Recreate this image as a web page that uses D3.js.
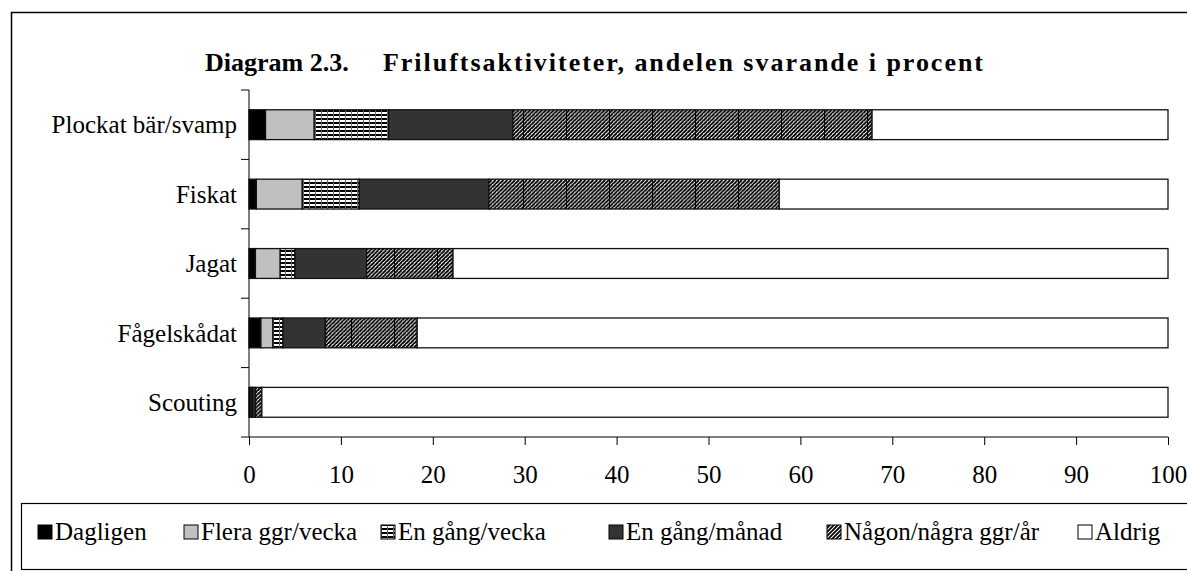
<!DOCTYPE html>
<html>
<head>
<meta charset="utf-8">
<script src="https://cdn.jsdelivr.net/npm/d3@7"></script>
<style>
  body { margin: 0; background: #fff; }
  text { font-family: "Liberation Serif", "Times New Roman", serif; fill: #000; }
</style>
</head>
<body>
<div id="chart"></div>
<script>
/* ---------------- data ---------------- */
const categories = ["Plockat bär/svamp", "Fiskat", "Jagat", "Fågelskådat", "Scouting"];
const seriesNames = ["Dagligen", "Flera ggr/vecka", "En gång/vecka", "En gång/månad", "Någon/några ggr/år", "Aldrig"];

// percent per category, same order as categories
const dagligen   = [1.8, 0.8, 0.7, 1.3, 0.2];
const fleraVecka = [5.3, 5.0, 2.7, 1.3, 0.1];
const enVecka    = [8.1, 6.2, 1.6, 1.1, 0.1];
const enManad    = [13.5, 14.1, 7.8, 4.6, 0.3];
const nagonAr    = [39.1, 31.6, 9.4, 10.0, 0.7];
const aldrig     = [32.2, 42.3, 77.8, 81.7, 98.6];

const xTicks = [0, 10, 20, 30, 40, 50, 60, 70, 80, 90, 100];

const titleLeft = "Diagram 2.3.";
const titleRight = "Friluftsaktiviteter, andelen svarande i procent";

/* ---------------- sizes ---------------- */
let width = 1187, height = 571;
let margin = { top: 90, right: 19, bottom: 134, left: 249 };
let chartWidth = width - margin.left - margin.right;
let chartHeight = height - margin.top - margin.bottom;

let svg = d3.select("#chart").append("svg")
    .attr("width", width).attr("height", height);

// table for the stack
let allSeries = [dagligen, fleraVecka, enVecka, enManad, nagonAr, aldrig];
let table = categories.map((c, i) => {
    let row = { cat: c };
    seriesNames.forEach((s, j) => { row[s] = allSeries[j][i]; });
    return row;
});
let stacked = d3.stack().keys(seriesNames)(table);

/* ---------------- patterns ---------------- */
let defs = svg.append("defs");

// diagonal hatch, with the faint vertical seams every 43px seen in the picture
let seam = 43, per = seam / 11;
let hatch = defs.append("pattern")
    .attr("id", "hatch").attr("patternUnits", "userSpaceOnUse")
    .attr("x", (523 - margin.left) % seam).attr("y", 0)
    .attr("width", seam).attr("height", per);
hatch.append("rect").attr("width", seam).attr("height", per).attr("fill", "#fff");
let hp = "";
for (let k = -1; k <= 12; k++) {
    let x0 = k * per;
    hp += `M${x0 - per},${per * 2} L${x0 + per},0 `;
}
hatch.append("path").attr("d", hp).attr("stroke", "#000").attr("stroke-width", 1.9);
hatch.append("line").attr("x1", 0.5).attr("x2", 0.5).attr("y1", 0).attr("y2", per)
    .attr("stroke", "#000").attr("stroke-width", 1);

// small hatch for the legend key
let hatchKey = defs.append("pattern")
    .attr("id", "hatchKey").attr("patternUnits", "userSpaceOnUse")
    .attr("width", 4).attr("height", 4);
hatchKey.append("rect").attr("width", 4).attr("height", 4).attr("fill", "#fff");
hatchKey.append("path").attr("d", "M-1,5 L5,-1 M-1,1 L1,-1 M3,5 L5,3")
    .attr("stroke", "#000").attr("stroke-width", 1.8);

// horizontal lines grid (en gang/vecka)
let grid = defs.append("pattern")
    .attr("id", "grid").attr("patternUnits", "userSpaceOnUse")
    .attr("width", 6).attr("height", 4);
grid.append("rect").attr("width", 6).attr("height", 4).attr("fill", "#fff");
grid.append("rect").attr("y", 0).attr("width", 6).attr("height", 2).attr("fill", "#000");
grid.append("rect").attr("x", 0).attr("width", 1).attr("height", 4).attr("fill", "#666");

let fills = ["#000", "#c0c0c0", "url(#grid)", "#333", "url(#hatch)", "#fff"];
let keyFills = ["#000", "#c0c0c0", "url(#grid)", "#333", "url(#hatchKey)", "#fff"];

/* ---------------- frames ---------------- */
svg.append("rect")
    .attr("x", 11.5).attr("y", 12.5).attr("width", 1300).attr("height", 700)
    .attr("fill", "none").attr("stroke", "#000").attr("stroke-width", 1.5);

// title (the right part is letter spaced in the original)
svg.append("text").attr("x", 205).attr("y", 71)
    .attr("font-size", 26).attr("font-weight", "bold").text(titleLeft);
svg.append("text").attr("x", 383).attr("y", 71)
    .attr("font-size", 26).attr("font-weight", "bold")
    .attr("textLength", 600).attr("lengthAdjust", "spacing")
    .text(titleRight);

let chartGroup = svg.append("g")
    .attr("transform", `translate(${margin.left}, ${margin.top})`);

/* ---------------- scales ---------------- */
let xScale = d3.scaleLinear().domain([0, 100]).range([0, chartWidth]);
let yScale = d3.scaleBand().domain(categories).range([0, chartHeight]).paddingInner(0.57).paddingOuter(0.285);

/* ---------------- bars ---------------- */
chartGroup.selectAll(".layer")
    .data(stacked)
    .enter()
    .append("g")
    .attr("class", "layer")
    .attr("fill", (d, i) => fills[i])
    .selectAll("rect")
    .data(d => d)
    .enter()
    .append("rect")
    .attr("x", d => xScale(d[0]))
    .attr("y", d => yScale(d.data.cat))
    .attr("width", d => xScale(d[1]) - xScale(d[0]))
    .attr("height", yScale.bandwidth())
    .attr("stroke", "#111")
    .attr("stroke-width", 1.3);

/* ---------------- axes ---------------- */
let xAxis = d3.axisBottom(xScale).tickValues(xTicks).tickSize(8).tickPadding(20).tickFormat(d3.format("d"));
let xg = chartGroup.append("g")
    .attr("transform", `translate(0, ${chartHeight})`)
    .call(xAxis);
xg.select(".domain").attr("d", `M0,0H${chartWidth}`).attr("stroke", "#000");
xg.selectAll("text").attr("font-size", 25).attr("font-family", "Liberation Serif");

// category axis: labels + ticks between categories
let yg = chartGroup.append("g");
yg.append("line").attr("x1", 0).attr("x2", 0).attr("y1", 0).attr("y2", chartHeight).attr("stroke", "#000");
let step = yScale.step();
d3.range(categories.length + 1).forEach(i => {
    yg.append("line").attr("x1", -8).attr("x2", 0)
        .attr("y1", i * step).attr("y2", i * step).attr("stroke", "#000");
});
yg.selectAll(".cat")
    .data(categories)
    .enter()
    .append("text")
    .attr("class", "cat")
    .attr("x", -12)
    .attr("y", d => yScale(d) + yScale.bandwidth() / 2)
    .attr("dy", "0.35em")
    .attr("text-anchor", "end")
    .attr("font-size", 25)
    .text(d => d);

/* ---------------- legend ---------------- */
svg.append("rect")
    .attr("x", 21.5).attr("y", 503.5).attr("width", 1300).attr("height", 66)
    .attr("fill", "#fff").attr("stroke", "#000").attr("stroke-width", 1.2);

let legendX = [38, 184, 381, 609, 827, 1078];
let legend = svg.selectAll(".key")
    .data(seriesNames)
    .enter()
    .append("g")
    .attr("class", "key")
    .attr("transform", (d, i) => `translate(${legendX[i]}, 0)`);
legend.append("rect")
    .attr("x", 0).attr("y", 525).attr("width", 14).attr("height", 14)
    .attr("fill", (d, i) => keyFills[i])
    .attr("stroke", "#000").attr("stroke-width", 1);
legend.append("text")
    .attr("x", 17).attr("y", 540)
    .attr("font-size", 25)
    .text(d => d);
</script>
</body>
</html>
